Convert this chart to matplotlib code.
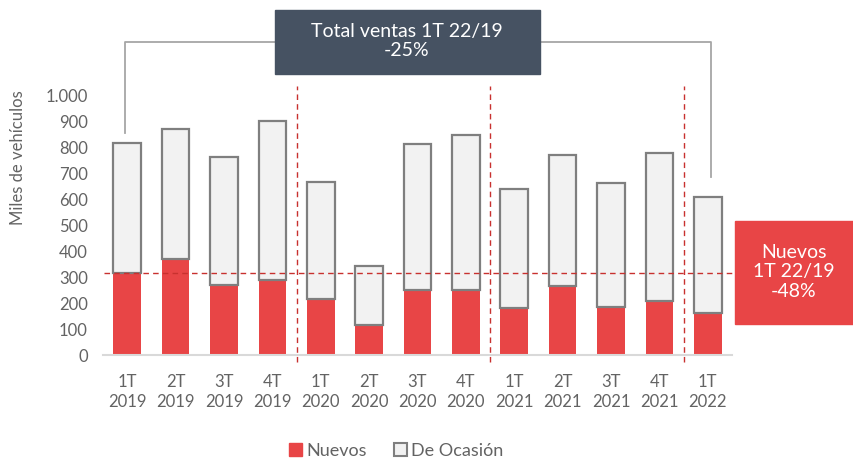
# Ventas de vehículos nuevos y de ocasión por trimestre
import matplotlib.pyplot as plt
from matplotlib.patches import Patch, Rectangle
from matplotlib.ticker import FuncFormatter

plt.rcParams['font.family'] = ['Lato', 'DejaVu Sans']

trimestres = ["1T", "2T", "3T", "4T", "1T", "2T", "3T", "4T", "1T", "2T", "3T", "4T", "1T"]
anios = ["2019"] * 4 + ["2020"] * 4 + ["2021"] * 4 + ["2022"]
totales = [814, 870, 763, 900, 665, 344, 810, 847, 640, 770, 662, 776, 609]
nuevos = [314, 370, 269, 287, 214, 115, 250, 250, 180, 265, 183, 206, 160]
ocasion = [t - n for t, n in zip(totales, nuevos)]
ref_nuevos = 314

rojo = "#E84546"
gris_fill = "#F2F2F2"
gris_borde = "#7F7F7F"
texto = "#636363"
linea_roja = "#C8312F"

fig = plt.figure(figsize=(8.54, 4.58), dpi=100)
ax = fig.add_axes([103 / 854, 1 - 355 / 458, 629 / 854, 260 / 458])

x = list(range(len(trimestres)))
ax.bar(x, nuevos, width=0.57, color=rojo, linewidth=0, zorder=2)
ax.bar(x, ocasion, bottom=nuevos, width=0.57, color=gris_fill,
       edgecolor=gris_borde, linewidth=1.6, zorder=2)

ax.set_xlim(-0.5, 12.5)
ax.set_ylim(0, 1000)
ax.set_yticks(range(0, 1001, 100))
ax.yaxis.set_major_formatter(FuncFormatter(lambda v, p: f"{int(v):,}".replace(",", ".")))
ax.set_xticks(x)
ax.set_xticklabels([f"{t}\n{a}" for t, a in zip(trimestres, anios)], linespacing=1.25)
ax.tick_params(axis='both', length=0, labelsize=12, colors=texto)
ax.tick_params(axis='x', pad=14)
ax.tick_params(axis='y', pad=11)
for s in ['top', 'right', 'left']:
    ax.spines[s].set_visible(False)
ax.spines['bottom'].set_color("#D9D9D9")
ax.spines['bottom'].set_linewidth(1.5)

# separadores de año
for xv in [3.5, 7.5, 11.5]:
    ax.plot([xv, xv], [-27, 1035], ls=(0, (4, 3)), color=linea_roja, lw=1, clip_on=False, zorder=3)
ax.plot([-0.48, 12.55], [ref_nuevos, ref_nuevos], ls=(0, (4, 3)), color=linea_roja, lw=1,
        clip_on=False, zorder=3)

# corchete superior
ax.plot([-0.05, -0.05, 12.07, 12.07], [854, 1204, 1204, 686], color="#A6A6A6", lw=1.3,
        clip_on=False, zorder=1)

fig.patches.append(Rectangle((275 / 854, 1 - 74 / 458), 265 / 854, 64 / 458,
                             transform=fig.transFigure, color="#465262", zorder=5))
fig.text(407 / 854, 1 - 41 / 458, "Total ventas 1T 22/19\n-25%", color="white",
         ha='center', va='center', fontsize=14, linespacing=1.15, zorder=6)

fig.patches.append(Rectangle((735 / 854, 1 - 324 / 458), 130 / 854, 103 / 458,
                             transform=fig.transFigure, color=rojo, zorder=5))
fig.text(794 / 854, 1 - 272 / 458, "Nuevos\n1T 22/19\n-48%", color="white",
         ha='center', va='center', fontsize=14, linespacing=1.2, zorder=6)

fig.text(18 / 854, 1 - 158 / 458, "Miles de vehículos", rotation=90, color=texto,
         ha='center', va='center', fontsize=12)

handles = [Patch(facecolor=rojo, edgecolor=rojo, label="Nuevos"),
           Patch(facecolor=gris_fill, edgecolor=gris_borde, linewidth=1.5, label="De Ocasión")]
fig.legend(handles=handles, loc='center', bbox_to_anchor=(396 / 854, 1 - 451 / 458), ncol=2,
           frameon=False, handlelength=0.75, handleheight=0.75, handletextpad=0.2,
           columnspacing=1.5, fontsize=13, labelcolor=texto)

fig.savefig("out.png", dpi=100)
